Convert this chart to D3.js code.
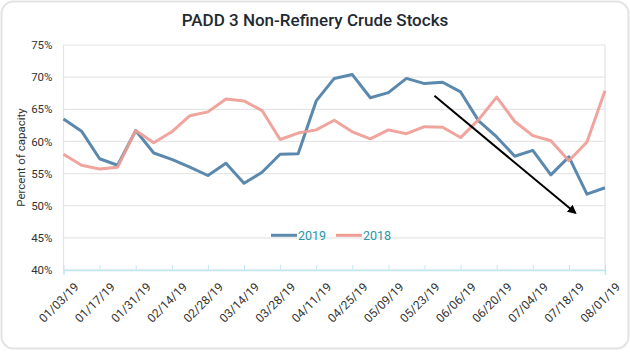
<!DOCTYPE html>
<html>
<head>
<meta charset="utf-8">
<script src="https://cdn.jsdelivr.net/npm/d3@7"></script>
<style>
  body { margin: 0; background: #fff; font-family: Roboto, "Noto Sans", sans-serif; }
  svg { display: block; }
</style>
</head>
<body>
<svg id="chart" width="630" height="352"></svg>
<script>
// weekly dates, 2019
let dates = ["01/03/19","01/10/19","01/17/19","01/24/19","01/31/19","02/07/19","02/14/19","02/21/19",
  "02/28/19","03/07/19","03/14/19","03/21/19","03/28/19","04/04/19","04/11/19","04/18/19",
  "04/25/19","05/02/19","05/09/19","05/16/19","05/23/19","05/30/19","06/06/19","06/13/19",
  "06/20/19","06/27/19","07/04/19","07/11/19","07/18/19","07/25/19","08/01/19"];

let stocks2019 = [63.5, 61.6, 57.3, 56.3, 61.7, 58.2, 57.2, 56.0, 54.7, 56.6, 53.5, 55.2, 58.0, 58.1, 66.3, 69.8,
  70.4, 66.8, 67.6, 69.8, 69.0, 69.2, 67.7, 63.2, 60.7, 57.7, 58.6, 54.8, 57.6, 51.8, 52.8];

let stocks2018 = [58.0, 56.3, 55.7, 56.0, 61.7, 59.8, 61.5, 64.0, 64.6, 66.6, 66.3, 64.8, 60.3, 61.3, 61.8, 63.3,
  61.5, 60.4, 61.8, 61.2, 62.3, 62.2, 60.6, 63.4, 66.9, 63.1, 60.9, 60.1, 57.0, 59.9, 67.9];

let yTicks = [40, 45, 50, 55, 60, 65, 70, 75];

// trend arrow, in (week index, percent)
let arrowFrom = [20.55, 67.1];
let arrowTo = [28.35, 48.9];

let series = [
  { name: "2019", values: stocks2019, color: "#5b88ad" },
  { name: "2018", values: stocks2018, color: "#ee9d95" }
];

let svg = d3.select("#chart");

// card
svg.append("rect")
  .attr("x", 1.5).attr("y", 1.5)
  .attr("width", 627).attr("height", 347)
  .attr("rx", 12)
  .attr("fill", "#fff")
  .attr("stroke", "#e3e3e3")
  .attr("stroke-width", 2);

svg.append("text")
  .attr("x", 315).attr("y", 26)
  .attr("text-anchor", "middle")
  .attr("font-size", 17)
  .attr("font-weight", 500)
  .attr("fill", "#1f2a33")
  .text("PADD 3 Non-Refinery Crude Stocks");

let x = d3.scaleLinear()
  .domain([0, dates.length - 1])
  .range([63.5, 605]);

let y = d3.scaleLinear()
  .domain([40, 75])
  .range([270, 45]);

// gridlines
svg.append("g")
  .selectAll("line")
  .data(yTicks)
  .join("line")
  .attr("x1", x(0)).attr("x2", x(dates.length - 1))
  .attr("y1", d => y(d)).attr("y2", d => y(d))
  .attr("stroke", "#e6e6e6")
  .attr("stroke-width", 1.2);

// vertical frame lines
svg.append("line")
  .attr("x1", x(0)).attr("x2", x(0))
  .attr("y1", y(75)).attr("y2", y(40))
  .attr("stroke", "#e3e3e3").attr("stroke-width", 1.2);
svg.append("line")
  .attr("x1", x(dates.length - 1)).attr("x2", x(dates.length - 1))
  .attr("y1", y(75)).attr("y2", y(40))
  .attr("stroke", "#e3e3e3").attr("stroke-width", 1.2);

// y axis labels
let yAxis = d3.axisLeft(y)
  .tickValues(yTicks)
  .tickFormat(d => d + "%")
  .tickSize(0)
  .tickPadding(11);

svg.append("g")
  .attr("transform", `translate(${x(0)},0)`)
  .call(yAxis)
  .call(g => g.select(".domain").remove())
  .selectAll("text")
  .attr("font-family", "Roboto, sans-serif")
  .attr("font-size", 11.5)
  .attr("fill", "#333");

svg.append("text")
  .attr("transform", `translate(25,${(y(40) + y(75)) / 2}) rotate(-90)`)
  .attr("text-anchor", "middle")
  .attr("font-size", 11.5)
  .attr("fill", "#333")
  .text("Percent of capacity");

// x axis
let tickIdx = d3.range(0, dates.length, 2);
let xAxis = d3.axisBottom(x)
  .tickValues(tickIdx)
  .tickFormat(i => dates[i])
  .tickSize(5)
  .tickPadding(4);

svg.append("g")
  .attr("transform", `translate(0,${y(40)})`)
  .call(xAxis)
  .call(g => g.select(".domain").attr("stroke", "#bfe6f1").attr("stroke-width", 1.5))
  .call(g => g.selectAll(".tick line").attr("stroke", "#bfe6f1").attr("y1", -5).attr("y2", 0))
  .selectAll("text")
  .attr("font-family", "Roboto, sans-serif")
  .attr("font-size", 12)
  .attr("fill", "#333")
  .attr("text-anchor", "end")
  .attr("transform", "translate(5,7) rotate(-45)")
  .attr("dy", "0.5em");

// lines
let line = d3.line()
  .x((d, i) => x(i))
  .y(d => y(d));

svg.append("g")
  .selectAll("path")
  .data(series)
  .join("path")
  .attr("d", d => line(d.values))
  .attr("fill", "none")
  .attr("stroke", d => d.color)
  .attr("stroke-width", 3)
  .attr("stroke-linejoin", "round")
  .attr("opacity", (d, i) => i === 1 ? 0.92 : 1);

// arrow
svg.append("defs").append("marker")
  .attr("id", "head")
  .attr("viewBox", "0 0 10 10")
  .attr("refX", 8).attr("refY", 5)
  .attr("markerWidth", 4.5).attr("markerHeight", 4.5)
  .attr("orient", "auto")
  .append("path")
  .attr("d", "M0,0 L10,5 L0,10 z")
  .attr("fill", "#000");

svg.append("line")
  .attr("x1", x(arrowFrom[0])).attr("y1", y(arrowFrom[1]))
  .attr("x2", x(arrowTo[0])).attr("y2", y(arrowTo[1]))
  .attr("stroke", "#000")
  .attr("stroke-width", 2)
  .attr("marker-end", "url(#head)");

// legend
let legend = svg.append("g")
  .selectAll("g")
  .data(series)
  .join("g")
  .attr("transform", (d, i) => `translate(${271 + i * 65},${y(45.4)})`);

legend.append("line")
  .attr("x1", 0).attr("x2", 26)
  .attr("stroke", d => d.color)
  .attr("stroke-width", 3);

legend.append("text")
  .attr("x", 27).attr("dy", "0.35em")
  .attr("font-size", 12.5)
  .attr("fill", "#2a97a8")
  .text(d => d.name);
</script>
</body>
</html>
